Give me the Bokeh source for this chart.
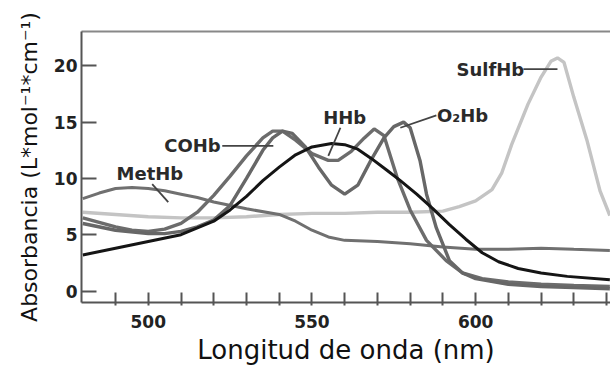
from bokeh.plotting import figure
from bokeh.models import Range1d, FixedTicker, LinearAxis, ColumnDataSource
from bokeh.core.properties import value
from bokeh.embed import file_html
from bokeh.resources import INLINE

# ---- data ----
methb_x = [480, 485, 490, 495, 500, 505, 510, 515, 520, 530, 540, 545, 550, 555, 560, 570, 580, 590, 600, 610, 620, 630, 641]
methb_y = [8.2, 8.7, 9.1, 9.2, 9.1, 8.9, 8.6, 8.3, 7.9, 7.3, 6.8, 6.2, 5.4, 4.8, 4.5, 4.4, 4.2, 3.9, 3.7, 3.7, 3.8, 3.7, 3.6]

sulf_x = [480, 490, 500, 510, 520, 530, 540, 550, 560, 570, 580, 590, 595, 600, 605, 608, 611, 616, 620, 623, 625, 627, 630, 634, 638, 641]
sulf_y = [7.0, 6.8, 6.6, 6.5, 6.5, 6.6, 6.8, 6.9, 6.9, 7.0, 7.0, 7.1, 7.5, 8.0, 9.0, 10.5, 13.0, 16.6, 19.0, 20.4, 20.7, 20.3, 17.2, 13.4, 8.9, 6.7]

cohb_x = [480, 490, 495, 500, 505, 510, 515, 520, 525, 530, 535, 538, 541, 545, 550, 555, 558, 562, 566, 569, 572, 576, 580, 585, 591, 596, 602, 610, 620, 630, 641]
cohb_y = [6.5, 5.7, 5.4, 5.3, 5.5, 6.0, 7.0, 8.5, 10.2, 12.0, 13.6, 14.2, 14.2, 13.4, 12.2, 11.6, 11.6, 12.4, 13.6, 14.4, 13.8, 10.1, 7.2, 4.5, 2.7, 1.6, 1.1, 0.8, 0.6, 0.5, 0.4]

o2hb_x = [480, 490, 500, 505, 510, 515, 520, 525, 530, 535, 538, 541, 544, 548, 552, 556, 560, 564, 568, 572, 575, 578, 580, 583, 585, 588, 592, 596, 600, 610, 620, 630, 641]
o2hb_y = [6.0, 5.4, 5.1, 5.1, 5.3, 5.7, 6.3, 7.6, 10.0, 12.5, 13.6, 14.2, 14.0, 12.8, 11.0, 9.4, 8.6, 9.4, 11.6, 13.6, 14.6, 15.0, 14.5, 11.6, 8.6, 5.6, 2.7, 1.6, 1.1, 0.6, 0.4, 0.3, 0.2]

hhb_x = [480, 490, 500, 510, 520, 525, 530, 535, 540, 545, 550, 556, 560, 564, 568, 573, 577, 582, 587, 592, 597, 602, 607, 613, 620, 628, 641]
hhb_y = [3.2, 3.8, 4.4, 5.0, 6.2, 7.2, 8.4, 9.8, 11.0, 12.1, 12.8, 13.1, 13.0, 12.6, 11.8, 10.7, 9.8, 8.6, 7.3, 5.9, 4.6, 3.4, 2.6, 2.0, 1.6, 1.3, 1.0]

label_text = ["MetHb", "COHb", "HHb", "O\u2082Hb", "SulfHb"]
label_x = [500.5, 513.5, 560.0, 596.0, 604.5]
label_y = [10.4, 12.9, 15.4, 15.6, 19.7]

pointer_x0 = [501.2, 522.6, 558.7, 588.0, 614.6]
pointer_y0 = [9.5, 12.9, 14.5, 15.6, 19.7]
pointer_x1 = [506.1, 538.2, 555.0, 577.0, 625.0]
pointer_y1 = [7.9, 12.9, 12.0, 14.5, 19.7]

x_major = [500, 550, 600]
x_minor = [490, 510, 520, 530, 540, 560, 570, 580, 590, 610, 620, 630, 640]
y_major = [0, 5, 10, 15, 20]

# ---- figure ----
p = figure(width=610, height=367, output_backend="svg", toolbar_location=None,
           x_range=Range1d(479.6, 641.2), y_range=Range1d(-1.02, 23.05),
           min_border_left=81, min_border_right=0, min_border_top=31, min_border_bottom=65)
p.outline_line_color = None
p.grid.visible = False
p.background_fill_color = "white"
p.border_fill_color = "white"

tick_font = "DejaVu Sans"
for ax in p.xaxis + p.yaxis:
    ax.axis_line_color = "#555555"
    ax.axis_line_width = 2
    ax.major_tick_line_color = "#555555"
    ax.major_tick_line_width = 2
    ax.minor_tick_line_color = "#555555"
    ax.minor_tick_line_width = 2
    ax.major_label_text_font = tick_font
    ax.major_label_text_font_style = "bold"
    ax.major_label_text_font_size = "17px"
    ax.major_label_text_color = "#222222"
    ax.axis_label_text_font = tick_font
    ax.axis_label_text_font_style = "normal"
    ax.axis_label_text_color = "#111111"

p.xaxis.ticker = FixedTicker(ticks=x_major, minor_ticks=x_minor)
p.xaxis.major_tick_in = 10
p.xaxis.major_tick_out = 3
p.xaxis.minor_tick_in = 10
p.xaxis.minor_tick_out = 3
p.xaxis.major_label_standoff = 9
p.xaxis.axis_label = "Longitud de onda (nm)"
p.xaxis.axis_label_text_font_size = "26px"
p.xaxis.axis_label_standoff = 4

p.yaxis.ticker = FixedTicker(ticks=y_major, minor_ticks=[])
p.yaxis.major_tick_in = 15
p.yaxis.major_tick_out = 0
p.yaxis.major_label_standoff = 4
p.yaxis.axis_label = "Absorbancia (L*mol\u207b\u00b9*cm\u207b\u00b9)"
p.yaxis.axis_label_text_font_size = "22px"
p.yaxis.axis_label_standoff = 9

top = LinearAxis(ticker=FixedTicker(ticks=[]), major_label_text_font_size="0px",
                 axis_line_color="#888888", axis_line_width=2,
                 major_tick_line_color=None, minor_tick_line_color=None)
p.add_layout(top, "above")

# ---- curves ----
p.line(sulf_x, sulf_y, line_color="#c4c4c4", line_width=3.4)
p.line(methb_x, methb_y, line_color="#707070", line_width=3.0)
p.line(cohb_x, cohb_y, line_color="#6c6c6c", line_width=3.4)
p.line(o2hb_x, o2hb_y, line_color="#676767", line_width=3.4)
p.line(hhb_x, hhb_y, line_color="#151515", line_width=3.0)

# ---- labels ----
p.segment(x0=pointer_x0, y0=pointer_y0, x1=pointer_x1, y1=pointer_y1,
          line_color="#444444", line_width=1.8)
src = ColumnDataSource(dict(x=label_x, y=label_y, t=label_text))
p.text(x="x", y="y", text="t", source=src, text_align="center", text_baseline="middle",
       text_font=value("DejaVu Sans"), text_font_style="bold", text_font_size="18px",
       text_color="#2a2a2a")

open("out.html", "w").write(file_html(p, INLINE))
